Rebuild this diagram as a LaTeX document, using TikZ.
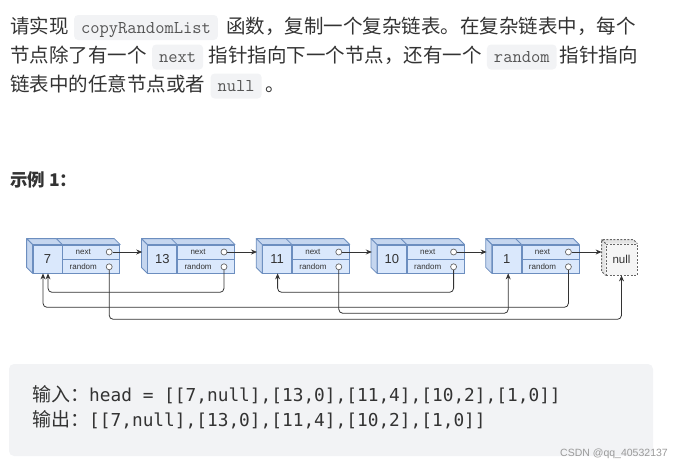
\documentclass[tikz,border=0pt]{standalone}
\usepackage{fontspec}
\setmainfont{Noto Sans CJK SC}
\newfontfamily\codefont{DejaVu Sans Mono}
\newfontfamily\diafont{Liberation Sans}
\usetikzlibrary{arrows.meta,positioning,calc}
\definecolor{nodeFill}{HTML}{DAE8FC}
\definecolor{nodeSide}{HTML}{C5D6EF}
\definecolor{nodeLine}{HTML}{6C8EBF}
\definecolor{nullFill}{HTML}{F5F5F5}
\definecolor{nullSide}{HTML}{E4E4E4}
\definecolor{nullLine}{HTML}{666666}
\definecolor{codeFill}{HTML}{F2F3F5}
\definecolor{textColor}{HTML}{333333}
\definecolor{codeText}{HTML}{555555}
\definecolor{markColor}{HTML}{9A9A9A}
\tikzset{para/.style={inner sep=0pt, anchor=west, text=textColor, text height=15pt, text depth=4pt, font=\fontsize{19.5}{20}\selectfont}}
\tikzset{inlinecode/.style={fill=codeFill, rounded corners=4pt, inner xsep=7pt, inner ysep=4.5pt, text height=13.5pt, text depth=2.5pt, text=codeText, font=\fontsize{18}{18}\selectfont\ttfamily}}
\tikzset{heading/.style={inner sep=0pt, anchor=west, text=textColor, font=\fontsize{17.5}{18}\selectfont\bfseries}}
\tikzset{valface/.style={draw=nodeLine, fill=nodeFill, line width=0.8pt, minimum width=29pt, minimum height=28pt, inner sep=0pt, text=textColor, font=\diafont\fontsize{13}{13}\selectfont}}
\tikzset{fieldface/.style={draw=nodeLine, fill=nodeFill, line width=0.8pt, minimum width=57pt, minimum height=14pt, inner sep=0pt}}
\tikzset{fieldtext/.style={inner sep=0pt, text=textColor, font=\diafont\fontsize{8}{8}\selectfont}}
\tikzset{sideface/.style={draw=nodeLine, fill=nodeSide, line width=0.8pt, line join=round}}
\tikzset{nullface/.style={draw=nullLine, fill=nullFill, dashed, dash pattern=on 2pt off 1.5pt, line width=0.8pt, minimum width=31pt, minimum height=31pt, inner sep=0pt, text=textColor, font=\diafont\fontsize{11.5}{11.5}\selectfont}}
\tikzset{nullside/.style={draw=nullLine, fill=nullSide, dash pattern=on 2pt off 1.5pt, line width=0.8pt}}
\tikzset{dot/.style={circle, draw=nullLine, fill=white, line width=0.7pt, minimum size=6pt, inner sep=0pt}}
\tikzset{link/.style={draw=textColor, line width=0.8pt, rounded corners=4pt, -{Stealth[length=6pt, width=5pt]}}}
\tikzset{ioline/.style={inner sep=0pt, anchor=west, text=textColor, font=\codefont\fontsize{17.8}{18}\selectfont}}

\begin{document}
\begin{tikzpicture}[x=1pt, y=-1pt]
\useasboundingbox (0,0) rectangle (680,469);

% Problem text
\node[para] (l1a) at (10,27.5) {请实现};
\node[inlinecode, right=5pt of l1a] (c1) {copyRandomList};
\node[para, anchor=east] (l1b) at (636,27.5) {函数，复制一个复杂链表。在复杂链表中，每个};

\node[para] (l2a) at (10,57) {节点除了有一个};
\node[inlinecode, right=5pt of l2a] (c2) {next};
\node[para, right=5pt of c2] (l2b) {指针指向下一个节点，还有一个};
\node[inlinecode, right=5pt of l2b] (c3) {random};
\node[para, anchor=east] (l2c) at (638,57) {指针指向};

\node[para] (l3a) at (10,86) {链表中的任意节点或者};
\node[inlinecode, right=5pt of l3a] (c4) {null};
\node[para, right=3pt of c4] (l3b) {。};

\node[heading] (ex) at (10,180) {示例 1：};

% List nodes
\foreach \v [count=\i from 0] in {7,13,11,10,1} {
  \node[valface] (v\i) at (47.5+114.8*\i,259) {\v};
  \node[fieldface, anchor=north west] (nx\i) at (v\i.north east) {};
  \node[fieldface, anchor=north] (rd\i) at (nx\i.south) {};
  \draw[sideface] (v\i.north west) -- ++(-6,-6) -- ([shift={(-6,-6)}]nx\i.north east) -- (nx\i.north east) -- cycle;
  \draw[sideface] (v\i.north west) -- ++(-6,-6) -- ([shift={(-6,-6)}]v\i.south west) -- (v\i.south west) -- cycle;
  \draw[sideface] (v\i.north east) -- ++(-6,-6);
  \node[fieldtext] at ([xshift=-8]nx\i.center) {next};
  \node[fieldtext] at ([xshift=-8]rd\i.center) {random};
  \node[dot] (cn\i) at ([xshift=-11]nx\i.east) {};
  \node[dot] (cr\i) at ([xshift=-11]rd\i.east) {};
  \coordinate (in\i) at ([xshift=-35]nx\i.west);
}

\node[nullface] (nul) at (621.5,259.5) {null};
\draw[nullside] (nul.north west) -- ++(-4,-4) -- ([shift={(-4,-4)}]nul.north east) -- (nul.north east);
\draw[nullside] (nul.north west) -- ++(-4,-4) -- ([shift={(-4,-4)}]nul.south west) -- (nul.south west);
\coordinate (nulin) at ([xshift=-4]nul.west);

% Connectors
\foreach \i/\j in {0/1,1/2,2/3,3/4}
  \draw[link] (cn\i) -- (in\j);
\draw[link] (cn4) -- (cn4 -| nulin);

\draw[link] (cr0) -- ++(0,52.5) -| (nul.south);
\draw[link] (cr1) -- ++(0,25.5) -| ([xshift=0.5]v0.south);
\draw[link] (cr4) -- ++(0,40.5) -| ([xshift=-4.5]v0.south);
\draw[link] (cr2) -- ++(0,46.5) -| ([xshift=1.5]v4.south);
\draw[link] (cr3) -- ++(0,25.5) -| ([xshift=0.5]v2.south);

% Example box
\node[fill=codeFill, rounded corners=5pt, minimum width=644pt, minimum height=92pt] (io) at (331,410) {};
\node[ioline] (input) at (32,395) {{\normalfont\fontsize{19}{19}\selectfont 输入：}head = [[7,null],[13,0],[11,4],[10,2],[1,0]]};
\node[ioline] (output) at (32,420) {{\normalfont\fontsize{19}{19}\selectfont 输出：}[[7,null],[13,0],[11,4],[10,2],[1,0]]};

\node[inner sep=0pt, anchor=east, text=markColor, font=\diafont\fontsize{10.5}{10.5}\selectfont] (wm) at (668,454) {CSDN @qq\_40532137};

\end{tikzpicture}
\end{document}
